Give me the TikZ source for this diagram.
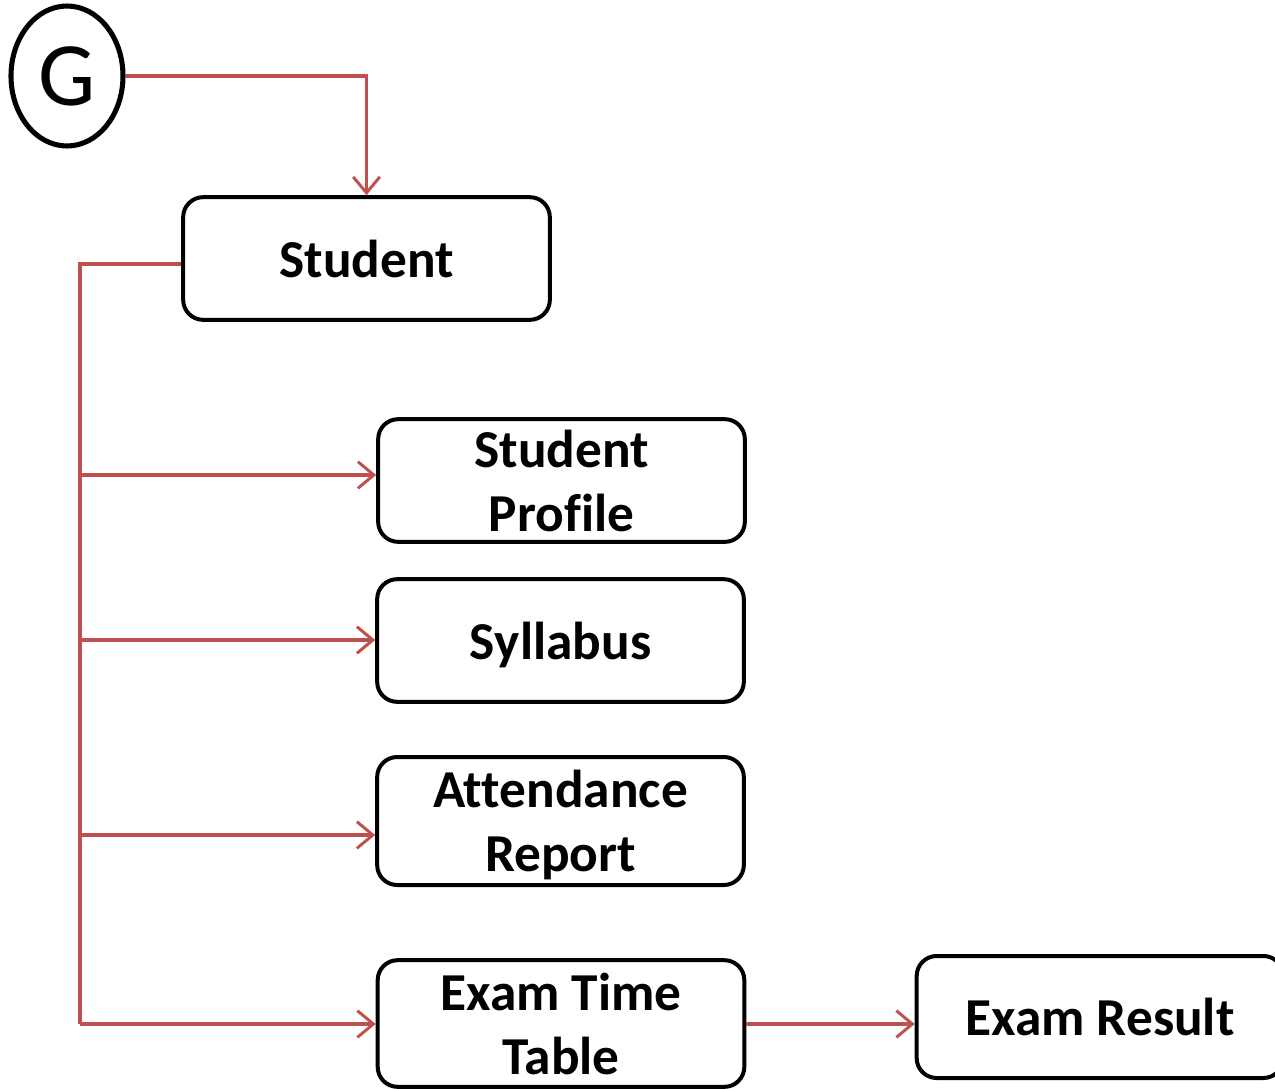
\documentclass[tikz,border=0pt]{standalone}
\usepackage{fontspec}
\setmainfont{Carlito}[Ligatures={NoCommon}]
\usetikzlibrary{arrows.meta,shapes.geometric}
\definecolor{linkred}{RGB}{192,80,77}
\tikzset{
  box/.style={draw=black, line width=3pt, rounded corners=15pt,
    minimum width=275pt, minimum height=92pt, align=center,
    font=\fontsize{40}{48}\selectfont\bfseries, inner sep=0pt},
  link/.style={draw=linkred, line width=2.4pt},
  arr/.style={link, -{Straight Barb[length=12pt,width=20pt,line width=2.2pt]}}
}
\begin{document}
\begin{tikzpicture}[x=0.75pt,y=-0.75pt]
\useasboundingbox (0,0) rectangle (1275,1089);
\node[draw=black, line width=3.8pt, ellipse, minimum width=84pt, minimum height=105pt, inner sep=0pt,
  font=\fontsize{68}{70}\selectfont] (g) at (67,76) {G};
\node[box] (student) at (366.5,258.5) {Student};
\node[box] (prof) at (561.5,480.5) {Student\\Profile};
\node[box] (syl) at (560.5,640.5) {S\smash{y}llabus};
\node[box, minimum height=96pt] (att) at (560.5,821) {Attendance\\Re\smash{p}ort};
\node[box, minimum height=95pt] (exam) at (561,1023.5) {Exam Time\\Table};
\node[box, minimum height=91.5pt] (res) at (1100,1017) {Exam Result};

\coordinate (top) at (80,264);
\coordinate (b1) at (80,475);
\coordinate (b2) at (80,640);
\coordinate (b3) at (80,835);
\coordinate (b4) at (80,1024);

\draw[arr] (g.east) -| (student.north);
\draw[link] (student.west |- top) -- (top) -- (b4);
\draw[arr] (b1) -- (b1 -| prof.west);
\draw[arr] (b2) -- (b2 -| syl.west);
\draw[arr] (b3) -- (b3 -| att.west);
\draw[arr] (b4) -- (b4 -| exam.west);
\draw[arr] (exam.east |- b4) -- (b4 -| res.west);
\end{tikzpicture}
\end{document}
